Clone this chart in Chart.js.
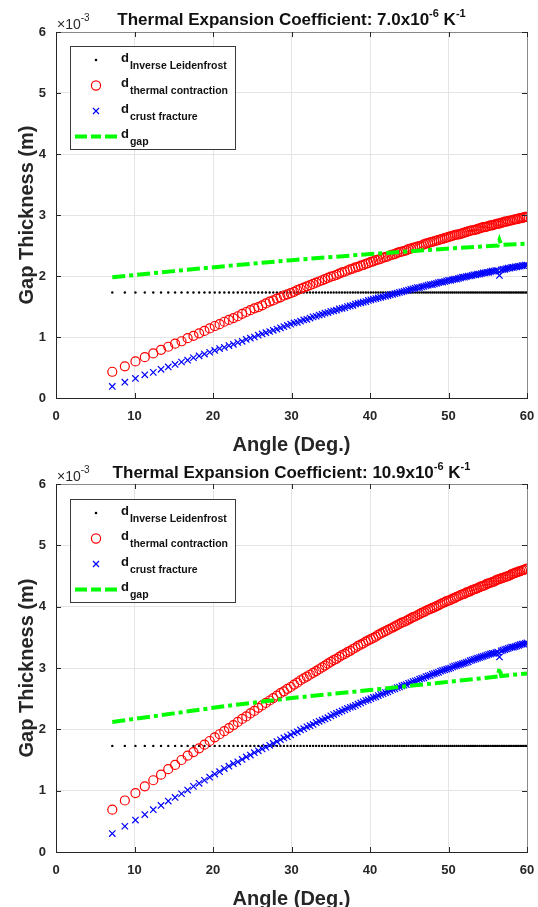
<!DOCTYPE html>
<html>
<head>
<meta charset="utf-8">
<script src="https://cdn.jsdelivr.net/npm/chart.js@4.4.0/dist/chart.umd.min.js"></script>
<style>
  html, body { margin: 0; padding: 0; background: #fff; }
  #wrap { position: relative; width: 538px; height: 907px; }
  #wrap canvas { position: absolute; left: 0; display: block; background: transparent; }
  #topChart { top: 0; }
  #bottomChart { top: 453px; }
</style>
</head>
<body>
<div id="wrap">
<canvas id="topChart" width="538" height="470"></canvas>
<canvas id="bottomChart" width="538" height="454"></canvas>
</div>
<script>
/* angles (deg.) shared by the marker series */
const angle = [
  7.17, 8.77, 10.12, 11.31, 12.39, 13.38, 14.30, 15.17, 15.99, 16.77,
  17.51, 18.23, 18.91, 19.58, 20.22, 20.84, 21.44, 22.03, 22.60, 23.16,
  23.71, 24.24, 24.76, 25.27, 25.77, 26.26, 26.74, 27.22, 27.68, 28.14,
  28.59, 29.03, 29.47, 29.90, 30.32, 30.74, 31.15, 31.56, 31.96, 32.36,
  32.75, 33.14, 33.52, 33.90, 34.27, 34.64, 35.01, 35.37, 35.73, 36.09,
  36.44, 36.79, 37.13, 37.48, 37.82, 38.15, 38.48, 38.82, 39.14, 39.47,
  39.79, 40.11, 40.43, 40.74, 41.05, 41.36, 41.67, 41.98, 42.28, 42.58,
  42.88, 43.17, 43.47, 43.76, 44.05, 44.34, 44.63, 44.91, 45.20, 45.48,
  45.76, 46.04, 46.31, 46.59, 46.86, 47.13, 47.40, 47.67, 47.94, 48.20,
  48.47, 48.73, 48.99, 49.25, 49.51, 49.77, 50.02, 50.28, 50.53, 50.78,
  51.03, 51.28, 51.53, 51.78, 52.02, 52.27, 52.51, 52.76, 53.00, 53.24,
  53.48, 53.71, 53.95, 54.19, 54.42, 54.66, 54.89, 55.12, 55.35, 55.58,
  55.81, 56.04, 56.27, 56.49, 56.72, 56.94, 57.17, 57.39, 57.61, 57.83,
  58.05, 58.27, 58.49, 58.71, 58.93, 59.14, 59.36, 59.57, 59.79, 60.00
];

/* d inverse Leidenfrost (x10^-3 m), same in both panels */
const leidenfrost = [
  1.73, 1.73, 1.73, 1.73, 1.73, 1.73, 1.73, 1.73, 1.73, 1.73,
  1.73, 1.73, 1.73, 1.73, 1.73, 1.73, 1.73, 1.73, 1.73, 1.73,
  1.73, 1.73, 1.73, 1.73, 1.73, 1.73, 1.73, 1.73, 1.73, 1.73,
  1.73, 1.73, 1.73, 1.73, 1.73, 1.73, 1.73, 1.73, 1.73, 1.73,
  1.73, 1.73, 1.73, 1.73, 1.73, 1.73, 1.73, 1.73, 1.73, 1.73,
  1.73, 1.73, 1.73, 1.73, 1.73, 1.73, 1.73, 1.73, 1.73, 1.73,
  1.73, 1.73, 1.73, 1.73, 1.73, 1.73, 1.73, 1.73, 1.73, 1.73,
  1.73, 1.73, 1.73, 1.73, 1.73, 1.73, 1.73, 1.73, 1.73, 1.73,
  1.73, 1.73, 1.73, 1.73, 1.73, 1.73, 1.73, 1.73, 1.73, 1.73,
  1.73, 1.73, 1.73, 1.73, 1.73, 1.73, 1.73, 1.73, 1.73, 1.73,
  1.73, 1.73, 1.73, 1.73, 1.73, 1.73, 1.73, 1.73, 1.73, 1.73,
  1.73, 1.73, 1.73, 1.73, 1.73, 1.73, 1.73, 1.73, 1.73, 1.73,
  1.73, 1.73, 1.73, 1.73, 1.73, 1.73, 1.73, 1.73, 1.73, 1.73,
  1.73, 1.73, 1.73, 1.73, 1.73, 1.73, 1.73, 1.73, 1.73, 1.73
];

/* top panel: alpha = 7.0e-6 1/K */
const contractionTop = [
  0.43, 0.52, 0.60, 0.67, 0.73, 0.79, 0.84, 0.89, 0.93, 0.98,
  1.02, 1.06, 1.10, 1.14, 1.18, 1.21, 1.25, 1.28, 1.31, 1.34,
  1.38, 1.41, 1.44, 1.47, 1.49, 1.52, 1.55, 1.58, 1.60, 1.63,
  1.65, 1.68, 1.70, 1.72, 1.74, 1.77, 1.79, 1.81, 1.83, 1.85,
  1.87, 1.89, 1.91, 1.93, 1.95, 1.97, 1.99, 2.00, 2.02, 2.04,
  2.06, 2.07, 2.09, 2.11, 2.12, 2.14, 2.15, 2.17, 2.18, 2.20,
  2.21, 2.23, 2.24, 2.26, 2.27, 2.28, 2.30, 2.31, 2.32, 2.34,
  2.35, 2.36, 2.38, 2.39, 2.40, 2.41, 2.42, 2.44, 2.45, 2.46,
  2.47, 2.48, 2.49, 2.50, 2.52, 2.53, 2.54, 2.55, 2.56, 2.57,
  2.58, 2.59, 2.60, 2.61, 2.62, 2.63, 2.64, 2.65, 2.66, 2.67,
  2.68, 2.68, 2.69, 2.70, 2.71, 2.72, 2.73, 2.74, 2.75, 2.75,
  2.76, 2.77, 2.78, 2.79, 2.80, 2.80, 2.81, 2.82, 2.83, 2.83,
  2.84, 2.85, 2.86, 2.86, 2.87, 2.88, 2.89, 2.89, 2.90, 2.91,
  2.91, 2.92, 2.93, 2.93, 2.94, 2.95, 2.95, 2.96, 2.97, 2.97
];
const fractureTop = [
  0.19, 0.26, 0.32, 0.38, 0.42, 0.47, 0.51, 0.55, 0.59, 0.62,
  0.66, 0.69, 0.72, 0.75, 0.78, 0.81, 0.83, 0.86, 0.88, 0.91,
  0.93, 0.96, 0.98, 1.00, 1.03, 1.05, 1.07, 1.09, 1.11, 1.13,
  1.15, 1.17, 1.19, 1.21, 1.23, 1.24, 1.26, 1.28, 1.29, 1.31,
  1.33, 1.34, 1.36, 1.37, 1.39, 1.40, 1.42, 1.43, 1.44, 1.46,
  1.47, 1.48, 1.50, 1.51, 1.52, 1.54, 1.55, 1.56, 1.57, 1.58,
  1.60, 1.61, 1.62, 1.63, 1.64, 1.65, 1.66, 1.67, 1.68, 1.69,
  1.70, 1.71, 1.72, 1.73, 1.74, 1.75, 1.76, 1.77, 1.78, 1.79,
  1.80, 1.81, 1.81, 1.82, 1.83, 1.84, 1.85, 1.86, 1.86, 1.87,
  1.88, 1.89, 1.90, 1.90, 1.91, 1.92, 1.93, 1.93, 1.94, 1.95,
  1.95, 1.96, 1.97, 1.98, 1.98, 1.99, 2.00, 2.00, 2.01, 2.02,
  2.02, 2.03, 2.03, 2.04, 2.05, 2.05, 2.06, 2.06, 2.07, 2.08,
  2.08, 2.09, 2.09, 2.01, 2.10, 2.11, 2.11, 2.12, 2.13, 2.13,
  2.14, 2.14, 2.15, 2.15, 2.16, 2.16, 2.17, 2.17, 2.18, 2.18
];

/* bottom panel: alpha = 10.9e-6 1/K */
const contractionBottom = [
  0.69, 0.84, 0.96, 1.07, 1.17, 1.26, 1.35, 1.42, 1.50, 1.57,
  1.63, 1.69, 1.75, 1.81, 1.87, 1.92, 1.97, 2.02, 2.07, 2.12,
  2.17, 2.21, 2.26, 2.30, 2.35, 2.39, 2.43, 2.47, 2.51, 2.55,
  2.59, 2.62, 2.66, 2.69, 2.73, 2.76, 2.80, 2.83, 2.86, 2.89,
  2.92, 2.95, 2.98, 3.01, 3.04, 3.07, 3.10, 3.13, 3.15, 3.18,
  3.21, 3.23, 3.26, 3.28, 3.31, 3.33, 3.36, 3.38, 3.40, 3.43,
  3.45, 3.47, 3.49, 3.51, 3.54, 3.56, 3.58, 3.60, 3.62, 3.64,
  3.66, 3.68, 3.70, 3.72, 3.74, 3.75, 3.77, 3.79, 3.81, 3.83,
  3.84, 3.86, 3.88, 3.90, 3.91, 3.93, 3.95, 3.96, 3.98, 3.99,
  4.01, 4.02, 4.04, 4.06, 4.07, 4.09, 4.10, 4.11, 4.13, 4.14,
  4.16, 4.17, 4.19, 4.20, 4.21, 4.23, 4.24, 4.25, 4.27, 4.28,
  4.29, 4.30, 4.32, 4.33, 4.34, 4.35, 4.37, 4.38, 4.39, 4.40,
  4.41, 4.43, 4.44, 4.45, 4.46, 4.47, 4.48, 4.49, 4.50, 4.51,
  4.53, 4.54, 4.55, 4.56, 4.57, 4.58, 4.59, 4.60, 4.61, 4.62
];
const fractureBottom = [
  0.30, 0.42, 0.52, 0.61, 0.69, 0.76, 0.83, 0.89, 0.95, 1.01,
  1.07, 1.12, 1.17, 1.22, 1.27, 1.31, 1.36, 1.40, 1.44, 1.47,
  1.51, 1.55, 1.58, 1.62, 1.65, 1.68, 1.71, 1.74, 1.77, 1.80,
  1.83, 1.86, 1.88, 1.91, 1.94, 1.96, 1.99, 2.01, 2.04, 2.06,
  2.08, 2.11, 2.13, 2.15, 2.17, 2.19, 2.22, 2.24, 2.26, 2.28,
  2.30, 2.32, 2.34, 2.36, 2.37, 2.39, 2.41, 2.43, 2.45, 2.47,
  2.48, 2.50, 2.52, 2.53, 2.55, 2.57, 2.58, 2.60, 2.61, 2.63,
  2.65, 2.66, 2.68, 2.69, 2.71, 2.72, 2.73, 2.75, 2.76, 2.78,
  2.79, 2.80, 2.82, 2.83, 2.84, 2.86, 2.87, 2.88, 2.90, 2.91,
  2.92, 2.93, 2.95, 2.96, 2.97, 2.98, 2.99, 3.00, 3.02, 3.03,
  3.04, 3.05, 3.06, 3.07, 3.08, 3.09, 3.10, 3.12, 3.13, 3.14,
  3.15, 3.16, 3.17, 3.18, 3.19, 3.20, 3.21, 3.22, 3.23, 3.24,
  3.24, 3.25, 3.26, 3.18, 3.28, 3.29, 3.30, 3.31, 3.32, 3.33,
  3.34, 3.34, 3.35, 3.36, 3.37, 3.38, 3.39, 3.39, 3.40, 3.41
];

/* d gap line */
const gapAngle = [7.17, 15.0, 22.2, 30.0, 40.0, 48.9, 56.27, 56.49, 56.72, 60.0];
const gapTop = [1.98, 2.08, 2.17, 2.26, 2.36, 2.44, 2.50, 2.59, 2.51, 2.53];
const gapBottom = [2.12, 2.26, 2.39, 2.51, 2.64, 2.76, 2.86, 3.00, 2.87, 2.91];

const xTicks = [0, 10, 20, 30, 40, 50, 60];
const yTicks = [0, 1, 2, 3, 4, 5, 6];

const FONT = '"Liberation Sans", Arial, Helvetica, sans-serif';
const INK = '#262626';

function pts(xs, ys) {
  return xs.map((x, i) => ({ x: x, y: ys[i] }));
}

/* title, x10^-3 label, legend and the box round the axes */
const decor = {
  id: 'decor',
  afterDraw(chart, args, opts) {
    const ctx = chart.ctx;
    const a = chart.chartArea;
    const sx = chart.scales.x, sy = chart.scales.y;
    ctx.save();

    // top / right edges of the box and inward tick marks
    ctx.strokeStyle = '#8a8a8a';
    ctx.lineWidth = 1;
    ctx.beginPath();
    ctx.moveTo(a.left, a.top + 0.5); ctx.lineTo(a.right + 0.5, a.top + 0.5);
    ctx.lineTo(a.right + 0.5, a.bottom);
    ctx.stroke();
    ctx.strokeStyle = INK;
    ctx.beginPath();
    xTicks.forEach(v => {
      const px = Math.round(sx.getPixelForValue(v)) + 0.5;
      ctx.moveTo(px, a.bottom); ctx.lineTo(px, a.bottom - 5);
      ctx.moveTo(px, a.top); ctx.lineTo(px, a.top + 5);
    });
    yTicks.forEach(v => {
      const py = Math.round(sy.getPixelForValue(v)) + 0.5;
      ctx.moveTo(a.left, py); ctx.lineTo(a.left + 5, py);
      ctx.moveTo(a.right, py); ctx.lineTo(a.right - 5, py);
    });
    ctx.stroke();

    // title with superscripts
    ctx.fillStyle = '#111';
    ctx.textBaseline = 'alphabetic';
    ctx.textAlign = 'left';
    let total = 0;
    opts.title.forEach(p => { ctx.font = p.font; p.w = ctx.measureText(p.text).width; total += p.w; });
    let tx = (a.left + a.right) / 2 - total / 2;
    opts.title.forEach(p => { ctx.font = p.font; ctx.fillText(p.text, tx, 25 + (p.dy || 0)); tx += p.w; });

    // x10^-3 exponent label
    ctx.fillStyle = INK;
    ctx.font = '14px ' + FONT;
    ctx.fillText('\u00d710', a.left + 1, a.top - 3);
    const ew = ctx.measureText('\u00d710').width;
    ctx.font = '10px ' + FONT;
    ctx.fillText('-3', a.left + 1 + ew, a.top - 11);

    // legend
    const bx = 70, by = 46, bw = 165, bh = 103;
    ctx.fillStyle = '#fff';
    ctx.fillRect(bx, by, bw, bh);
    ctx.strokeStyle = '#3a3a3a';
    ctx.strokeRect(bx + 0.5, by + 0.5, bw, bh);
    const rows = [
      { sub: 'Inverse Leidenfrost', kind: 'dot' },
      { sub: 'thermal contraction', kind: 'circle' },
      { sub: 'crust fracture', kind: 'cross' },
      { sub: 'gap', kind: 'line' }
    ];
    rows.forEach((r, i) => {
      const y = 60 + i * 25.5;
      const mx = 96;
      ctx.save();
      if (r.kind === 'dot') {
        ctx.fillStyle = '#000';
        ctx.beginPath(); ctx.arc(mx, y, 1.3, 0, Math.PI * 2); ctx.fill();
      } else if (r.kind === 'circle') {
        ctx.strokeStyle = '#ff0000'; ctx.lineWidth = 1.2;
        ctx.beginPath(); ctx.arc(mx, y, 4.6, 0, Math.PI * 2); ctx.stroke();
      } else if (r.kind === 'cross') {
        ctx.strokeStyle = '#0000ff'; ctx.lineWidth = 1.2;
        ctx.beginPath();
        ctx.moveTo(mx - 3, y - 3); ctx.lineTo(mx + 3, y + 3);
        ctx.moveTo(mx - 3, y + 3); ctx.lineTo(mx + 3, y - 3);
        ctx.stroke();
      } else {
        ctx.strokeStyle = '#00ff00'; ctx.lineWidth = 4;
        ctx.setLineDash([12, 4, 10, 4]);
        ctx.beginPath(); ctx.moveTo(75, y); ctx.lineTo(118, y); ctx.stroke();
      }
      ctx.restore();
      ctx.fillStyle = '#111';
      ctx.font = 'bold 13px ' + FONT;
      ctx.fillText('d', 121, y + 1.5);
      const dw = ctx.measureText('d').width;
      ctx.font = 'bold 10.5px ' + FONT;
      ctx.fillText(r.sub, 121 + dw + 1, y + 8.5);
    });
    ctx.restore();
  }
};

function makeChart(id, padTop, padBottom, contraction, fracture, gap, coef) {
  const big = 'bold 17px ' + FONT, small = 'bold 11px ' + FONT;
  return new Chart(document.getElementById(id), {
    type: 'scatter',
    data: {
      datasets: [
        {
          label: 'd gap', data: pts(gapAngle, gap), showLine: true,
          borderColor: '#00ff00', borderWidth: 4, borderDash: [13, 4, 4, 4],
          pointRadius: 0, tension: 0, order: 1
        },
        {
          label: 'd crust fracture', data: pts(angle, fracture),
          pointStyle: 'crossRot', pointRadius: 4.5, pointBorderWidth: 1.2,
          pointBorderColor: '#0000ff', pointBackgroundColor: '#0000ff', order: 2
        },
        {
          label: 'd thermal contraction', data: pts(angle, contraction),
          pointStyle: 'circle', pointRadius: 4.5, pointBorderWidth: 1.2,
          pointBorderColor: '#ff0000', pointBackgroundColor: 'rgba(0,0,0,0)', order: 3
        },
        {
          label: 'd Inverse Leidenfrost', data: pts(angle, leidenfrost),
          pointStyle: 'circle', pointRadius: 1.2, pointBorderWidth: 0,
          pointBackgroundColor: '#000', order: 4
        }
      ]
    },
    options: {
      responsive: false,
      animation: false,
      devicePixelRatio: 1,
      layout: { padding: { top: padTop, right: 11, left: 0, bottom: padBottom } },
      plugins: {
        legend: { display: false },
        tooltip: { enabled: false },
        decor: {
          title: [
            { text: 'Thermal Expansion Coefficient: ' + coef + 'x10', font: big },
            { text: '-6', font: small, dy: -8 },
            { text: ' K', font: big },
            { text: '-1', font: small, dy: -8 }
          ]
        }
      },
      scales: {
        x: {
          type: 'linear', min: 0, max: 60,
          afterBuildTicks: s => { s.ticks = xTicks.map(v => ({ value: v })); },
          afterFit: s => { s.height = 55; s.paddingLeft = 0; s.paddingRight = 0; },
          ticks: { padding: 11, color: INK, font: { family: FONT, size: 13, weight: 'bold' } },
          grid: { color: '#e4e4e4', drawTicks: false },
          border: { color: INK },
          title: {
            display: true, text: 'Angle (Deg.)', color: INK, padding: 0,
            font: { family: FONT, size: 20, weight: 'bold', lineHeight: 0.8 }
          }
        },
        y: {
          min: 0, max: 6,
          afterBuildTicks: s => { s.ticks = yTicks.map(v => ({ value: v })); },
          afterFit: s => { s.width = 56; s.paddingTop = 0; s.paddingBottom = 0; },
          ticks: { padding: 10, color: INK, font: { family: FONT, size: 13, weight: 'bold' } },
          grid: { color: '#e4e4e4', drawTicks: false },
          border: { color: INK },
          title: {
            display: true, text: 'Gap Thickness (m)', color: INK, padding: { top: 17, bottom: 0 },
            font: { family: FONT, size: 20, weight: 'bold', lineHeight: 1 }
          }
        }
      }
    },
    plugins: [decor]
  });
}

makeChart('topChart', 32, 17, contractionTop, fractureTop, gapTop, '7.0');
makeChart('bottomChart', 31, 0, contractionBottom, fractureBottom, gapBottom, '10.9');
</script>
</body>
</html>
